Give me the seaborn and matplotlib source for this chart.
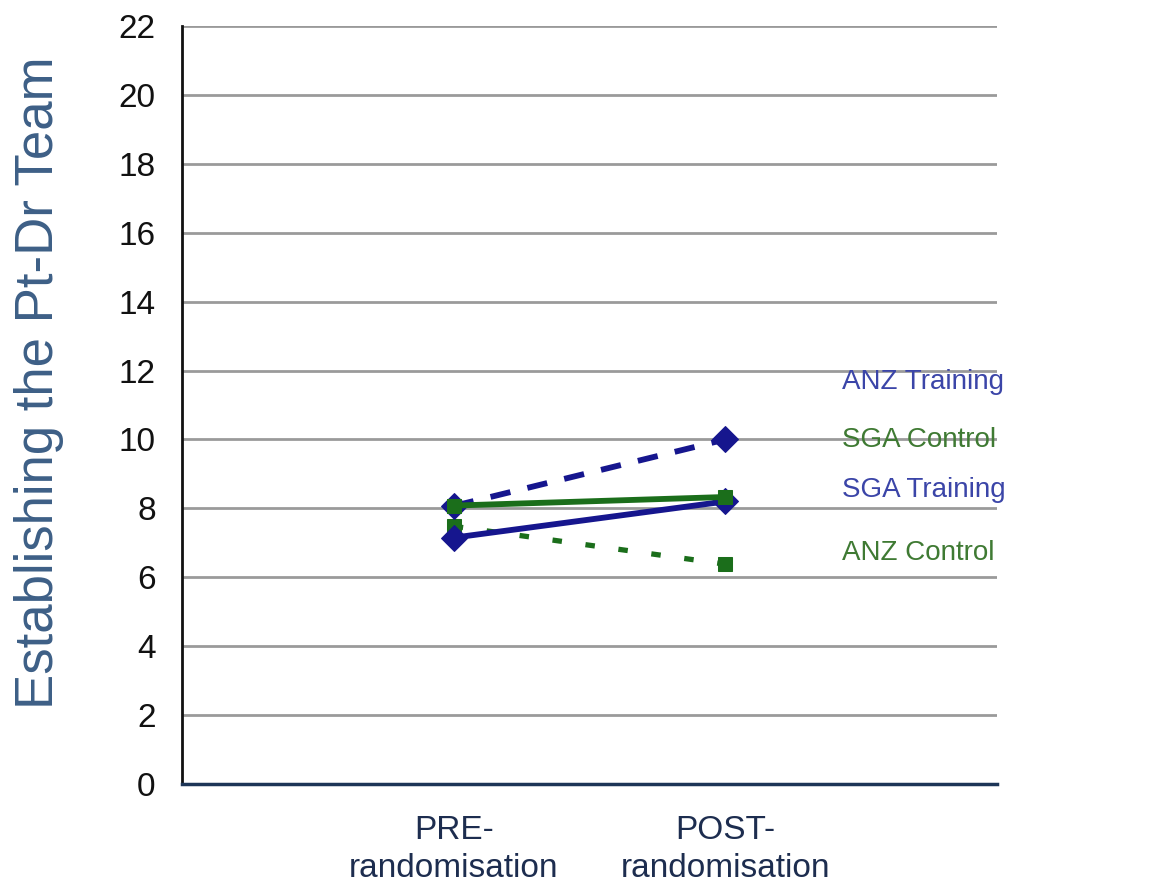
import matplotlib
matplotlib.use("Agg")
import matplotlib.pyplot as plt
import seaborn as sns
import pandas as pd

sns.set_style("white")
plt.rcParams["font.family"] = ["Liberation Sans", "DejaVu Sans"]

# Scores at each time point
phases = ["PRE-\nrandomisation", "POST-\nrandomisation"]
phase_pos = [1, 2]
anz_training = [8.07, 10.0]
sga_control = [8.08, 8.33]
sga_training = [7.15, 8.2]
anz_control = [7.48, 6.38]

series_names = ["ANZ Training", "SGA Control", "SGA Training", "ANZ Control"]
series_values = [anz_training, sga_control, sga_training, anz_control]

blue = "#16168e"
green = "#1b6e1b"
label_blue = "#3b45a8"
label_green = "#3f7a33"

styles = {
    "ANZ Training": dict(color=blue, ls=(0, (3.5, 3.0)), lw=4.2, marker="D", ms=13),
    "SGA Control": dict(color=green, ls="-", lw=4.2, marker="s", ms=10),
    "SGA Training": dict(color=blue, ls="-", lw=4.2, marker="D", ms=13),
    "ANZ Control": dict(color=green, ls=(0, (1.8, 4.5)), lw=3.8, marker="s", ms=10),
}

fig = plt.figure(figsize=(11.5, 8.94), dpi=100)
ax = fig.add_axes([0.1583, 0.123, 0.7087, 0.848])

draw_order = ["ANZ Control", "ANZ Training", "SGA Training", "SGA Control"]
for name in draw_order:
    vals = series_values[series_names.index(name)]
    df = pd.DataFrame({"phase": phase_pos, "score": vals})
    st = styles[name]
    sns.lineplot(data=df, x="phase", y="score", ax=ax, color=st["color"],
                 linewidth=st["lw"], linestyle=st["ls"], marker=st["marker"],
                 markersize=st["ms"], markeredgecolor=st["color"],
                 markerfacecolor=st["color"], legend=False, zorder=3)

ax.set_xlim(0, 3)
ax.set_ylim(0, 22)
ax.set_yticks(range(0, 23, 2))
ax.set_xticks([0, 1, 2, 3])
ax.set_xticklabels(["", phases[0], phases[1], ""], linespacing=1.3)
ax.grid(axis="y", color="#9a9a9a", linewidth=2.0)
ax.set_axisbelow(True)

for side in ["top", "right"]:
    ax.spines[side].set_visible(False)
ax.spines["left"].set_color("#111111")
ax.spines["left"].set_linewidth(2)
ax.spines["bottom"].set_color("#1d3557")
ax.spines["bottom"].set_linewidth(2.5)

ax.tick_params(axis="y", direction="inout", length=12, width=2, color="#111111",
               labelsize=24, labelcolor="#111111", pad=13)
ax.tick_params(axis="x", direction="out", length=9, width=1.5, color="#1d3557",
               labelsize=24, labelcolor="#1d2d4f", pad=13)

ax.set_xlabel("")
ax.set_ylabel("Establishing the Pt-Dr Team", fontsize=38, color="#3d5f86")
ax.yaxis.set_label_coords(-0.145, 0.53)

# Series labels at the right of the lines
label_pos = {"ANZ Training": 11.67, "SGA Control": 9.99, "SGA Training": 8.53, "ANZ Control": 6.7}
label_col = {"ANZ Training": label_blue, "SGA Control": label_green,
             "SGA Training": label_blue, "ANZ Control": label_green}
for name in series_names:
    ax.text(2.43, label_pos[name], name, color=label_col[name], fontsize=20,
            va="center", ha="left", clip_on=False)

fig.savefig("out.png", dpi=100)
